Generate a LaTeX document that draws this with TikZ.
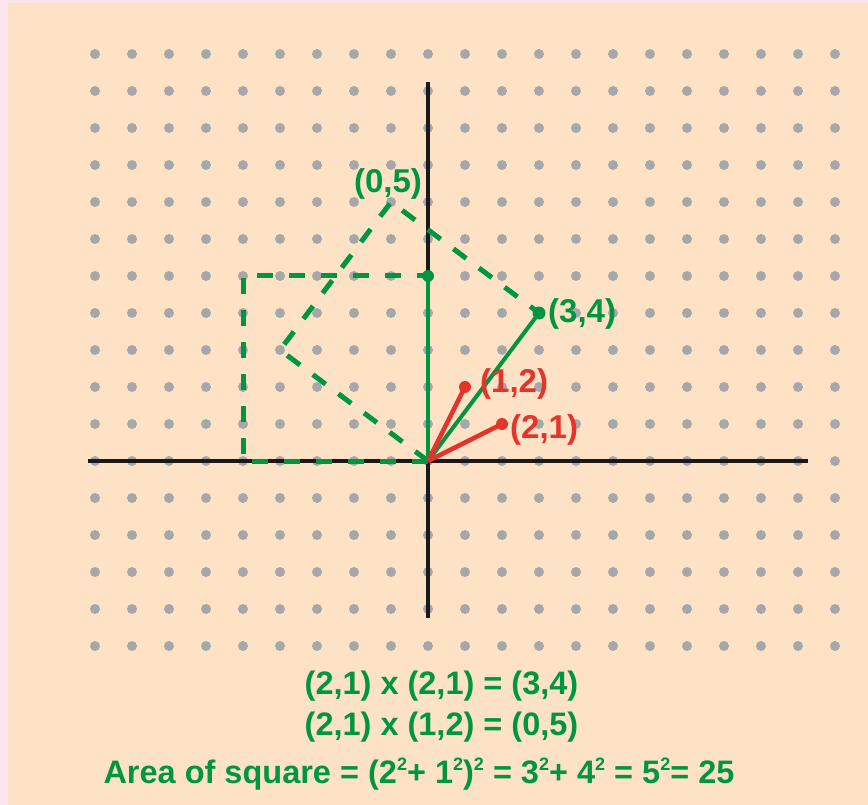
\documentclass[tikz,border=0pt]{standalone}
\usepackage{fontspec}
\setmainfont{Liberation Sans}
\definecolor{peach}{RGB}{254,226,197}
\definecolor{pinkedge}{RGB}{252,230,238}
\definecolor{dotgray}{RGB}{166,167,171}
\definecolor{mgreen}{RGB}{0,150,64}
\definecolor{mred}{RGB}{228,52,44}
\newcommand{\sqr}{\raisebox{12.5pt}{\fontsize{18}{18}\selectfont 2}}
\begin{document}
\begin{tikzpicture}[x=1pt,y=-1pt,
  lbl/.style={font=\fontsize{33}{38}\selectfont\bfseries, inner sep=0pt},
  eqn/.style={font=\fontsize{32.5}{38}\selectfont\bfseries, inner sep=0pt, text=mgreen},
  axisline/.style={line width=4pt, black!90},
  dsq/.style={line width=5pt, mgreen, dash pattern=on 16pt off 16pt},
  vec/.style={line width=4pt, mgreen},
  rvec/.style={line width=4.5pt, mred},
  gdot/.style={fill=mgreen},
  rdot/.style={fill=mred}]
\useasboundingbox (0,0) rectangle (868,805);
\fill[pinkedge] (0,0) rectangle (868,805);
\fill[peach] (8,3) rectangle (868,805);
\begin{scope}[shift={(428,461)}, x=37pt, y=37pt]
  \foreach \i in {-9,...,11} \foreach \j in {-5,...,11} \fill[dotgray] (\i,\j) circle (5pt);
  \coordinate (O) at (0,0);
  \coordinate (A) at (3,4);
  \coordinate (B) at (-1,7);
  \coordinate (C) at (-4,3);
  \coordinate (P) at (-5,0);
  \coordinate (Q) at (-5,5);
  \coordinate (R) at (0,5);
  \coordinate (U) at (1,2);
  \coordinate (V) at (2,1);
  \coordinate (XL) at (-9.19,0);
  \coordinate (XR) at (10.27,0);
  \coordinate (YB) at (0,-4.24);
  \coordinate (YT) at (0,10.24);
  \draw[axisline] (XL) -- (XR);
  \draw[axisline] (YB) -- (YT);
  \draw[dsq] (O) -- (P) -- (Q) -- (R);
  \draw[vec] (O) -- (R);
  \draw[dsq] (O) -- (C) -- (B) -- (A);
  \draw[vec] (O) -- (A);
  \draw[rvec] (O) -- (U);
  \draw[rvec] (O) -- (V);
  \fill[gdot] (A) circle (6.5pt);
  \fill[gdot] (R) circle (6pt);
  \fill[rdot] (U) circle (6pt);
  \fill[rdot] (V) circle (6pt);
\end{scope}
\node[lbl, text=mgreen, anchor=base] (l05) at (388,193) {(0,5)};
\node[lbl, text=mgreen, anchor=base west] (l34) at (548,323) {(3,4)};
\node[lbl, text=mred, anchor=base west] (l12) at (480,392) {(1,2)};
\node[lbl, text=mred, anchor=base west] (l21) at (510,438) {(2,1)};
\node[eqn, anchor=base] (eq1) at (441.5,694) {(2,1) x (2,1) = (3,4)};
\node[eqn, anchor=base] (eq2) at (441.5,735) {(2,1) x (1,2) = (0,5)};
\node[eqn, anchor=base] (eq3) at (419,783) {Area of square = (2\sqr+ 1\sqr)\sqr{} = 3\sqr+ 4\sqr{} = 5\sqr= 25};
\end{tikzpicture}
\end{document}
